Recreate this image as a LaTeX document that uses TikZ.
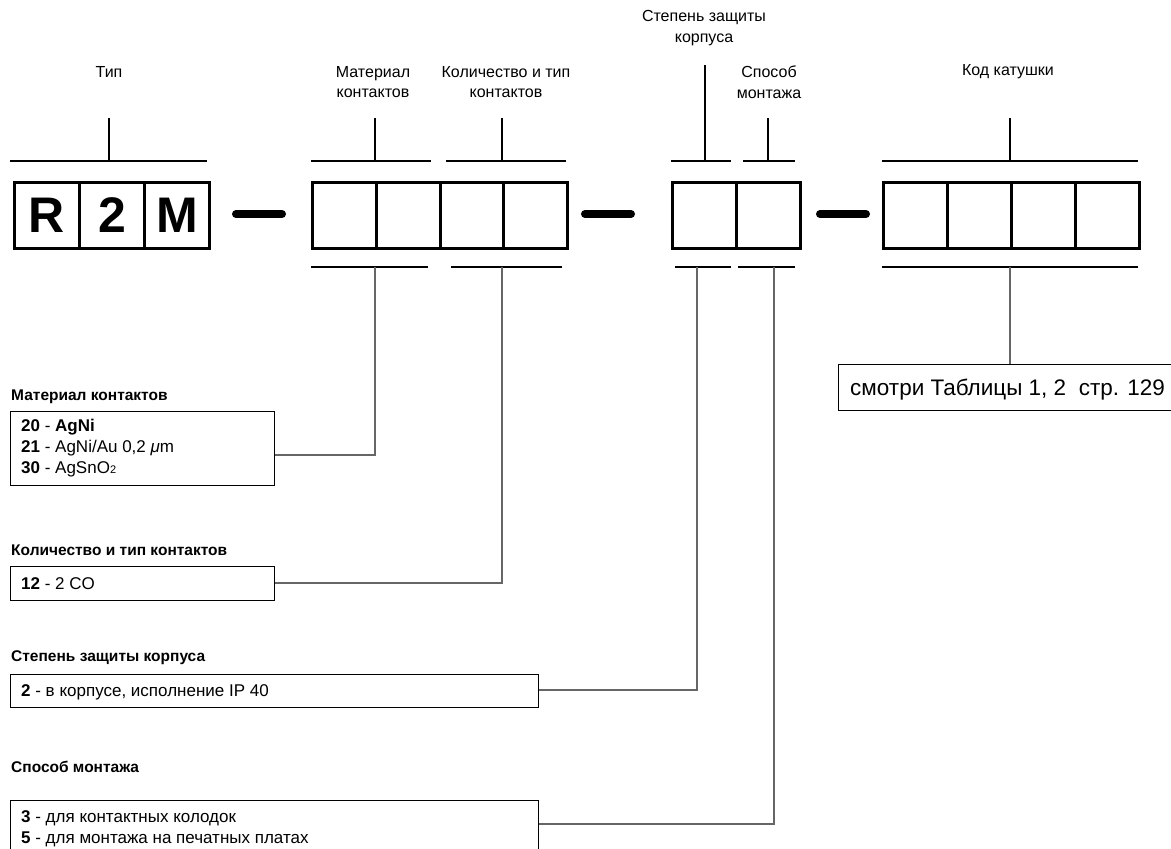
\documentclass[tikz,border=0pt]{standalone}
\usepackage{fontspec}
\setmainfont{Liberation Sans}
\begin{document}
\begin{tikzpicture}[x=1pt,y=-1pt,
  cell/.style={draw, line width=3pt, minimum width=64pt, minimum height=66pt, inner sep=0pt, anchor=north west, font=\fontsize{50}{50}\selectfont\bfseries},
  bracket/.style={line width=1.6pt},
  link/.style={line width=1.3pt, draw=black!60},
  sep/.style={line width=8pt, line cap=round},
  head/.style={font=\fontsize{16}{20.5}\selectfont, align=center, inner sep=0pt},
  title/.style={font=\fontsize{15.5}{18}\selectfont\bfseries, anchor=west, inner sep=0pt},
  infobox/.style={draw, line width=1.2pt, inner sep=0pt, anchor=north west},
  infotext/.style={font=\fontsize{17}{21}\selectfont, anchor=base west, inner sep=0pt}
]
\useasboundingbox (0,0) rectangle (1171,849);
\clip (0,0) rectangle (1171,849);

% code cells: type
\node[cell, minimum width=65pt] (t1) at (13,181) {R};
\node[cell, minimum width=65pt] (t2) at (78,181) {2};
\node[cell, minimum width=65pt] (t3) at (143,181) {M};

% contact material and contact set
\node[cell, minimum width=63.75pt] (m1) at (311,181) {};
\node[cell, minimum width=63.75pt] (m2) at (374.75,181) {};
\node[cell, minimum width=63.75pt] (k1) at (438.5,181) {};
\node[cell, minimum width=63.75pt] (k2) at (502.25,181) {};

% enclosure and mounting
\node[cell, minimum width=64.25pt] (p1) at (670.5,181) {};
\node[cell, minimum width=64.25pt] (s1) at (734.75,181) {};

% coil code
\node[cell] (c1) at (882,181) {};
\node[cell] (c2) at (946,181) {};
\node[cell] (c3) at (1010,181) {};
\node[cell] (c4) at (1074,181) {};

% separators
\coordinate (d1a) at (236,214); \coordinate (d1b) at (282,214);
\coordinate (d2a) at (585,214); \coordinate (d2b) at (631,214);
\coordinate (d3a) at (820,214); \coordinate (d3b) at (866,214);
\draw[sep] (d1a) -- (d1b);
\draw[sep] (d2a) -- (d2b);
\draw[sep] (d3a) -- (d3b);

% headings
\node[head] (hT) at (109,72) {Тип};
\node[head] (hM) at (373,82) {Материал\\контактов};
\node[head] (hK) at (506,82) {Количество и тип\\контактов};
\node[head] (hP) at (704,28) {Степень защиты\\корпуса};
\node[head] (hS) at (769,82) {Способ\\монтажа};
\node[head] (hC) at (1008,72) {Код катушки};

% upper brackets
\coordinate (uT) at (109,161); \coordinate (uTt) at (109,118);
\coordinate (uM) at (375,161); \coordinate (uMt) at (375,118);
\coordinate (uK) at (502,161); \coordinate (uKt) at (502,118);
\coordinate (uP) at (705,161); \coordinate (uPt) at (705,65);
\coordinate (uS) at (768,161); \coordinate (uSt) at (768,118);
\coordinate (uC) at (1010,161); \coordinate (uCt) at (1010,118);
\draw[bracket] (10,161) -- (207,161);
\draw[bracket] (uT) -- (uTt);
\draw[bracket] (311,161) -- (431,161);
\draw[bracket] (uM) -- (uMt);
\draw[bracket] (446,161) -- (566,161);
\draw[bracket] (uK) -- (uKt);
\draw[bracket] (671,161) -- (731,161);
\draw[bracket] (uP) -- (uPt);
\draw[bracket] (743,161) -- (795,161);
\draw[bracket] (uS) -- (uSt);
\draw[bracket] (882,161) -- (1138,161);
\draw[bracket] (uC) -- (uCt);

% lower brackets
\coordinate (lM) at (375,267);
\coordinate (lK) at (502,267);
\coordinate (lP) at (697,267);
\coordinate (lS) at (774,267);
\coordinate (lC) at (1010,267);
\draw[bracket] (311,267) -- (428,267);
\draw[bracket] (451,267) -- (562,267);
\draw[bracket] (675,267) -- (731,267);
\draw[bracket] (738,267) -- (795,267);
\draw[bracket] (882,267) -- (1138,267);

% info blocks
\node[title] (tM) at (11,397) {Материал контактов};
\node[infobox, minimum width=264pt, minimum height=74pt] (bM) at (10,411) {};
\node[infotext] (xM1) at (21,431) {\textbf{20} - \textbf{AgNi}};
\node[infotext] (xM2) at (21,452) {\textbf{21} - AgNi/Au 0,2 \textit{μ}m};
\node[infotext] (xM3) at (21,473) {\textbf{30} - AgSnO{\fontsize{11}{11}\selectfont 2}};

\node[title] (tK) at (11,550) {Количество и тип контактов};
\node[infobox, minimum width=264pt, minimum height=34pt] (bK) at (10,566) {};
\node[infotext] (xK) at (21,589) {\textbf{12} - 2 CO};

\node[title] (tP) at (11,658) {Степень защиты корпуса};
\node[infobox, minimum width=528pt, minimum height=33pt] (bP) at (10,674) {};
\node[infotext] (xP) at (21,696) {\textbf{2} - в корпусе, исполнение IP 40};

\node[title] (tS) at (11,767) {Способ монтажа};
\node[infobox, minimum width=528pt, minimum height=70pt] (bS) at (10,800) {};
\node[infotext] (xS1) at (21,822) {\textbf{3} - для контактных колодок};
\node[infotext] (xS2) at (21,843) {\textbf{5} - для монтажа на печатных платах};

\node[infobox, minimum width=340pt, minimum height=46pt] (bC) at (838,364) {};
\node[infotext, font=\fontsize{22.5}{24}\selectfont] (xC) at (850,395) {смотри Таблицы 1, 2\ \ стр. 129};

% connectors
\draw[link] (bM.east |- 0,455) -| (lM);
\draw[link] (bK.east |- 0,583) -| (lK);
\draw[link] (bP.east |- 0,690) -| (lP);
\draw[link] (bS.east |- 0,824) -| (lS);
\draw[link] (bC.north -| lC) -- (lC);
\end{tikzpicture}
\end{document}
